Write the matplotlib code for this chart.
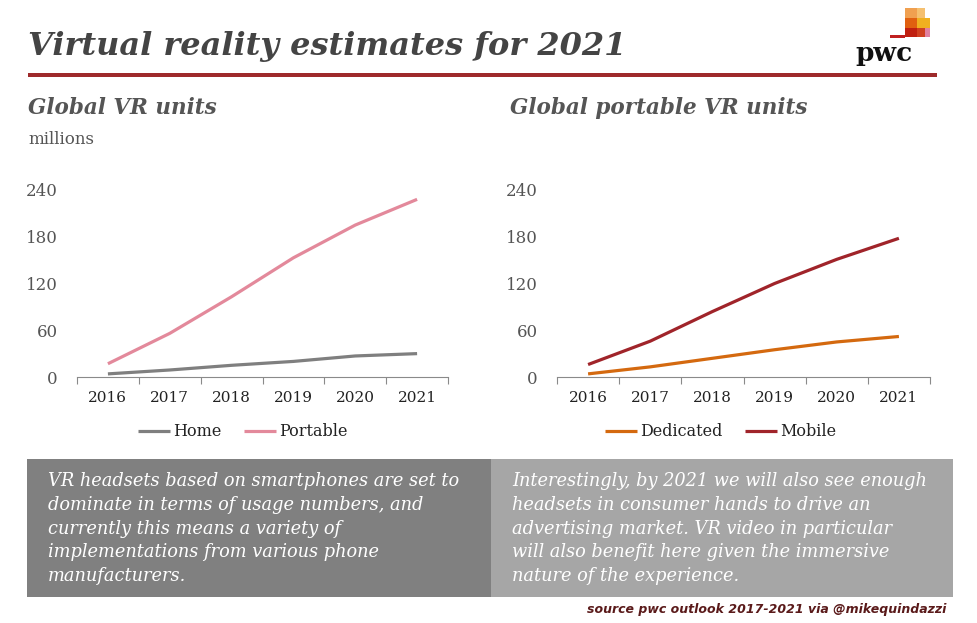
import matplotlib.pyplot as plt
from matplotlib.patches import Rectangle

years = ['2016', '2017', '2018', '2019', '2020', '2021']
home = [4, 9, 15, 20, 27, 30]
portable = [17, 56, 103, 153, 195, 228]
dedicated = [4, 13, 24, 35, 45, 52]
mobile = [16, 46, 84, 120, 151, 178]
yticks = [0, 60, 120, 180, 240]

SERIF = ['DejaVu Serif']
GREY_TXT = '#555555'
RED = '#9e2a2b'

fig = plt.figure(figsize=(9.77, 6.23), dpi=100)
W, H = 977, 623


def fx(px):
    return px / W


def fy(py):
    return 1 - py / H


def make_panel(left_px, right_px, series, colors, labels, leg_x):
    ax = fig.add_axes([fx(left_px), fy(377), fx(right_px - left_px), fy(190) - fy(377)])
    x = range(len(years))
    for s, c, lab in zip(series, colors, labels):
        ax.plot(x, s, color=c, lw=2.3, solid_capstyle='butt', label=lab)
    ax.set_xlim(-0.5, len(years) - 0.5)
    ax.set_ylim(0, 240)
    ax.set_yticks(yticks)
    ax.set_yticklabels([str(v) for v in yticks], family=SERIF, fontsize=12, color=GREY_TXT)
    ax.tick_params(axis='y', length=0, pad=14)
    ax.set_xticks([i - 0.5 for i in range(len(years) + 1)])
    ax.set_xticklabels([])
    ax.set_xticks(list(x), minor=True)
    ax.set_xticklabels(years, minor=True, family=SERIF, fontsize=11, color='#222222')
    ax.tick_params(axis='x', which='major', length=5, color='#8a8a8a', width=0.8, direction='out')
    ax.tick_params(axis='x', which='minor', length=0, pad=10)
    for sp in ['top', 'right', 'left']:
        ax.spines[sp].set_visible(False)
    ax.spines['bottom'].set_color('#8a8a8a')
    ax.spines['bottom'].set_linewidth(0.8)
    leg = ax.legend(loc='center', bbox_to_anchor=(leg_x, fy(432)), bbox_transform=fig.transFigure,
                    ncol=2, frameon=False, prop={'family': SERIF, 'size': 11.5},
                    handlelength=2.0, handletextpad=0.2, columnspacing=1.4)
    for t in leg.get_texts():
        t.set_color('#222222')
    return ax


make_panel(77, 448, [home, portable], ['#7f7f7f', '#e3899b'], ['Home', 'Portable'], fx(243))
make_panel(557, 930, [dedicated, mobile], ['#d4690f', '#a0242a'], ['Dedicated', 'Mobile'], fx(721))

# title and header rule
fig.text(fx(28), fy(47), 'Virtual reality estimates for 2021', family=SERIF, fontsize=23,
         fontweight='bold', fontstyle='italic', color='#444444', va='center', ha='left')
fig.add_artist(Rectangle((fx(28), fy(77)), fx(937 - 28), fy(73) - fy(77), transform=fig.transFigure,
                         color=RED, lw=0))

# pwc logo
fig.text(fx(884), fy(54), 'pwc', family=SERIF, fontsize=19, fontweight='bold', color='#111111',
         ha='center', va='center')
blocks = [
    (905, 8, 12, 10, '#f0a050'), (917, 8, 8, 10, '#f5c070'),
    (905, 18, 12, 10, '#e06010'), (917, 18, 13, 10, '#f0b020'),
    (905, 28, 12, 9, '#c02010'), (917, 28, 8, 9, '#d04020'), (925, 28, 5, 9, '#e080a0'),
    (890, 35, 15, 3, '#c02020'),
]
for bx, by, bw, bh, bc in blocks:
    fig.add_artist(Rectangle((fx(bx), fy(by + bh)), fx(bw), fy(by) - fy(by + bh),
                             transform=fig.transFigure, color=bc, lw=0))

# subtitles
fig.text(fx(28), fy(108), 'Global VR units', family=SERIF, fontsize=15.5, fontweight='bold',
         fontstyle='italic', color=GREY_TXT, va='center')
fig.text(fx(28), fy(139), 'millions', family=SERIF, fontsize=12, color=GREY_TXT, va='center')
fig.text(fx(510), fy(108), 'Global portable VR units', family=SERIF, fontsize=15.5, fontweight='bold',
         fontstyle='italic', color=GREY_TXT, va='center')

# commentary boxes
fig.add_artist(Rectangle((fx(27), fy(597)), fx(491 - 27), fy(459) - fy(597), transform=fig.transFigure,
                         color='#808080', lw=0))
fig.add_artist(Rectangle((fx(491), fy(597)), fx(953 - 491), fy(459) - fy(597), transform=fig.transFigure,
                         color='#a6a6a6', lw=0))
left_lines = ['VR headsets based on smartphones are set to',
              'dominate in terms of usage numbers, and',
              'currently this means a variety of',
              'implementations from various phone',
              'manufacturers.']
right_lines = ['Interestingly, by 2021 we will also see enough',
               'headsets in consumer hands to drive an',
               'advertising market. VR video in particular',
               'will also benefit here given the immersive',
               'nature of the experience.']
for i, (l1, l2) in enumerate(zip(left_lines, right_lines)):
    yy = fy(481 + i * 23.8)
    fig.text(fx(48), yy, l1, family=SERIF, fontsize=12.8, fontstyle='italic', color='white', va='center')
    fig.text(fx(512), yy, l2, family=SERIF, fontsize=12.8, fontstyle='italic', color='white', va='center')

fig.text(fx(946), fy(610), 'source pwc outlook 2017-2021 via @mikequindazzi', family='DejaVu Sans',
         fontsize=9, fontweight='bold', fontstyle='italic', color='#5a1a1a', ha='right', va='center')

fig.savefig('out.png', dpi=100)
